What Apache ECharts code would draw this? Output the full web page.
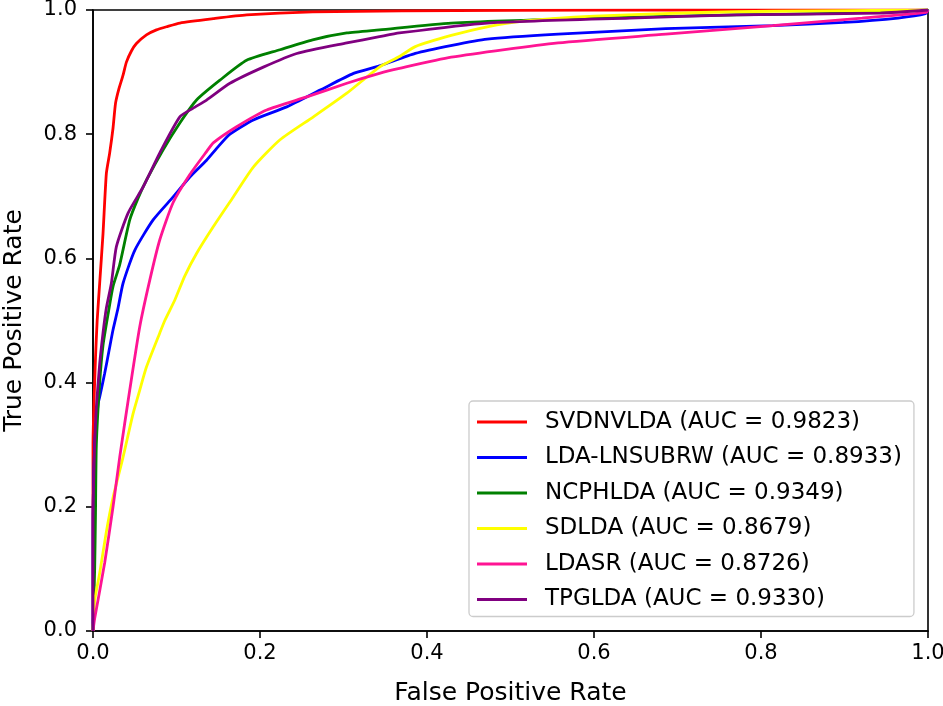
<!DOCTYPE html>
<html>
<head>
<meta charset="utf-8">
<script src="https://cdn.jsdelivr.net/npm/echarts@6/dist/echarts.min.js"></script>
<style>
html,body{margin:0;padding:0;background:#fff;}
#chart{width:943px;height:706px;}
</style>
</head>
<body>
<div id="chart"></div>
<script>
// ROC curve points: [False Positive Rate, True Positive Rate]
const seriesNames = ['SVDNVLDA (AUC = 0.9823)', 'LDA-LNSUBRW (AUC = 0.8933)', 'NCPHLDA (AUC = 0.9349)', 'SDLDA (AUC = 0.8679)', 'LDASR (AUC = 0.8726)', 'TPGLDA (AUC = 0.9330)'];
const seriesColors = ['#ff0000', '#0000ff', '#008000', '#ffff00', '#ff1493', '#800080'];
const axisTicks = [0.0, 0.2, 0.4, 0.6, 0.8, 1.0];

const svdnvlda = [[0,0],[0,0.30],[0.001,0.36],[0.003,0.44],[0.005,0.50],[0.008,0.56],[0.012,0.64],[0.016,0.737],[0.020,0.77],[0.024,0.81],[0.027,0.85],[0.031,0.873],[0.036,0.895],[0.040,0.916],[0.046,0.934],[0.052,0.946],[0.064,0.96],[0.076,0.968],[0.088,0.973],[0.104,0.979],[0.144,0.986],[0.184,0.992],[0.263,0.997],[0.37,0.9985],[0.5,0.9995],[0.7,1],[1,1]];
const ldaLnsubrw = [[0,0],[0,0.15],[0.002,0.30],[0.006,0.365],[0.008,0.377],[0.014,0.415],[0.019,0.45],[0.024,0.485],[0.030,0.52],[0.036,0.56],[0.050,0.613],[0.072,0.662],[0.096,0.699],[0.116,0.731],[0.136,0.758],[0.150,0.78],[0.164,0.80],[0.192,0.823],[0.232,0.844],[0.272,0.871],[0.312,0.898],[0.343,0.91],[0.386,0.93],[0.430,0.943],[0.472,0.953],[0.557,0.961],[0.686,0.970],[0.814,0.975],[0.899,0.98],[0.964,0.987],[0.997,0.994],[1,1]];
const ncphlda = [[0,0],[0.002,0.10],[0.003,0.19],[0.004,0.30],[0.008,0.40],[0.012,0.46],[0.018,0.51],[0.024,0.555],[0.032,0.59],[0.044,0.662],[0.054,0.697],[0.064,0.726],[0.084,0.775],[0.104,0.818],[0.124,0.855],[0.152,0.887],[0.184,0.919],[0.224,0.936],[0.263,0.952],[0.304,0.963],[0.343,0.968],[0.429,0.979],[0.6,0.987],[0.771,0.992],[0.9,0.995],[1,1]];
const sdlda = [[0,0],[0.001,0.03],[0.002,0.05],[0.008,0.093],[0.016,0.16],[0.024,0.215],[0.036,0.28],[0.048,0.35],[0.056,0.388],[0.064,0.425],[0.080,0.48],[0.086,0.50],[0.098,0.533],[0.110,0.572],[0.124,0.608],[0.144,0.651],[0.168,0.699],[0.192,0.747],[0.224,0.791],[0.264,0.828],[0.304,0.866],[0.343,0.908],[0.367,0.925],[0.386,0.941],[0.429,0.959],[0.472,0.973],[0.515,0.982],[0.6,0.99],[0.728,0.996],[0.814,0.998],[1,1]];
const ldasr = [[0,0],[0.002,0.02],[0.014,0.11],[0.024,0.20],[0.032,0.28],[0.044,0.388],[0.056,0.49],[0.068,0.565],[0.080,0.63],[0.096,0.69],[0.116,0.735],[0.136,0.772],[0.144,0.786],[0.172,0.812],[0.208,0.839],[0.256,0.86],[0.304,0.882],[0.343,0.898],[0.367,0.906],[0.429,0.924],[0.557,0.947],[0.686,0.961],[0.814,0.975],[0.921,0.987],[0.998,0.996],[1,1]];
const tpglda = [[0,0],[0,0.18],[0.002,0.30],[0.004,0.36],[0.008,0.43],[0.012,0.48],[0.016,0.52],[0.022,0.56],[0.028,0.619],[0.042,0.673],[0.060,0.715],[0.080,0.77],[0.104,0.828],[0.120,0.842],[0.136,0.855],[0.164,0.882],[0.204,0.908],[0.244,0.93],[0.304,0.947],[0.343,0.957],[0.367,0.963],[0.472,0.979],[0.643,0.987],[0.771,0.992],[0.943,0.995],[1,1]];

const allData = [svdnvlda, ldaLnsubrw, ncphlda, sdlda, ldasr, tpglda];

const FONT = 'DejaVu Sans';
const chart = echarts.init(document.getElementById('chart'), null, {renderer: 'canvas'});

const axisCommon = {
  type: 'value', min: axisTicks[0], max: axisTicks[axisTicks.length - 1], interval: 0.2,
  nameLocation: 'middle',
  nameTextStyle: {fontFamily: FONT, fontSize: 25, color: '#000'},
  axisLine: {show: true, lineStyle: {color: '#000', width: 1.6}},
  axisTick: {show: true, inside: false, length: 7, lineStyle: {color: '#000', width: 1.6}},
  axisLabel: {fontFamily: FONT, fontSize: 21, color: '#000', formatter: v => v.toFixed(1)},
  splitLine: {show: false}
};

chart.setOption({
  animation: false,
  backgroundColor: '#fff',
  grid: {left: 93, right: 15, top: 10, bottom: 75, show: true, borderColor: '#000', borderWidth: 1.6, containLabel: false, outerBoundsMode: 'none'},
  xAxis: Object.assign({}, axisCommon, {name: 'False Positive Rate', nameGap: 50, axisLabel: Object.assign({}, axisCommon.axisLabel, {margin: 12})}),
  yAxis: Object.assign({}, axisCommon, {name: 'True Positive Rate', nameGap: 66, axisLabel: Object.assign({}, axisCommon.axisLabel, {margin: 16})}),
  legend: {
    orient: 'vertical', left: 469, top: 401,
    icon: 'rect', itemWidth: 50, itemHeight: 3, itemGap: 9.5,
    padding: [8, 12, 4, 8],
    borderColor: '#cccccc', borderWidth: 1.3, borderRadius: 4,
    backgroundColor: '#fff',
    textStyle: {fontFamily: FONT, fontSize: 23, color: '#000', lineHeight: 26, padding: [0, 0, 0, 13]},
    data: seriesNames
  },
  series: seriesNames.map((n, i) => ({
    name: n, type: 'line', data: allData[i], symbol: 'none', smooth: 0.2,
    lineStyle: {color: seriesColors[i], width: 2.8}, itemStyle: {color: seriesColors[i]},
    z: 2 + i
  }))
});
</script>
</body>
</html>
